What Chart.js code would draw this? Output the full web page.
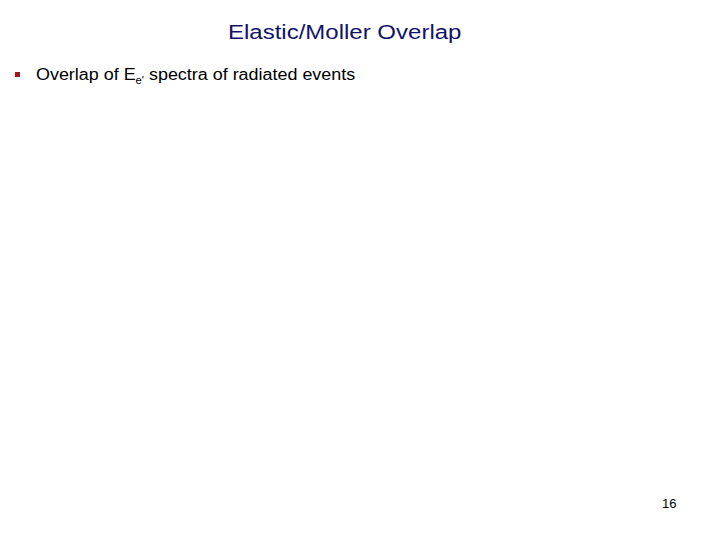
<!DOCTYPE html>
<html>
<head>
<meta charset="utf-8">
<script src="https://cdn.jsdelivr.net/npm/chart.js@4"></script>
<style>
  html, body { margin: 0; padding: 0; background: #fff; }
  #slide { position: relative; width: 720px; height: 540px; overflow: hidden;
           font-family: "Liberation Sans", Arial, sans-serif; }
  #chartBox { position: absolute; left: 30px; top: 100px; width: 660px; height: 380px; }
  #title { position: absolute; left: 228px; top: 22px; font-size: 20px; line-height: 1;
           white-space: nowrap; color: #13136b; transform: scaleX(1.2); transform-origin: 0 0; }
  #bullet { position: absolute; left: 36px; top: 67px; font-size: 16px; line-height: 1;
            white-space: nowrap; color: #000; transform: scaleX(1.12); transform-origin: 0 0; }
  #bullet sub { font-size: 10px; line-height: 1; vertical-align: -4px; }
  #mark { position: absolute; left: 15px; top: 72px; width: 5px; height: 5px; background: #a01818; }
  #page { position: absolute; left: 662px; top: 497px; font-size: 13px; line-height: 1; color: #000; }
</style>
</head>
<body>
<div id="slide">
  <div id="title">Elastic/Moller Overlap</div>
  <div id="mark"></div>
  <div id="bullet">Overlap of E<sub>e'</sub> spectra of radiated events</div>
  <div id="chartBox"><canvas id="overlapChart"></canvas></div>
  <div id="page">16</div>
</div>
<script>
// the slide shows no plotted spectra, so the series are empty
const energies = [];
const elasticCounts = [];
const mollerCounts = [];

new Chart(document.getElementById("overlapChart"), {
  type: "line",
  data: {
    labels: energies,
    datasets: [
      { label: "Elastic", data: elasticCounts, borderColor: "#c00000" },
      { label: "Moller", data: mollerCounts, borderColor: "#0000c0" }
    ]
  },
  options: {
    responsive: true,
    maintainAspectRatio: false,
    animation: false,
    plugins: { legend: { display: false }, tooltip: { enabled: false } },
    scales: { x: { display: false }, y: { display: false } }
  }
});
</script>
</body>
</html>
